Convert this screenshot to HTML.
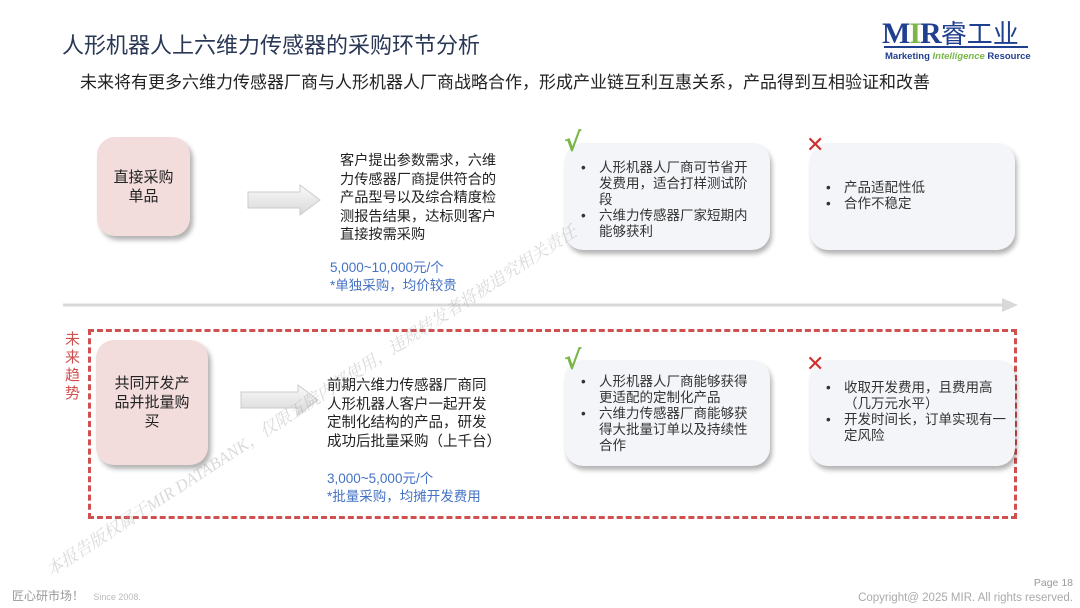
<!DOCTYPE html>
<html><head><meta charset="utf-8"><style>
*{margin:0;padding:0;box-sizing:border-box}
body{width:1080px;height:608px;background:#fff;position:relative;overflow:hidden;font-family:"Liberation Sans","Noto Sans CJK SC",sans-serif;color:#333}
.a{position:absolute}
.pink{background:#f2dcdc;border-radius:18px;box-shadow:3px 4px 5px rgba(0,0,0,.3);display:flex;align-items:center;justify-content:center;text-align:center;font-size:15px;line-height:19px;color:#222}
.card{background:#f3f5f8;border-radius:18px;box-shadow:2px 4px 5px rgba(0,0,0,.3);font-size:13.5px;line-height:16px;color:#333}
.card ul{list-style:none}
.card li{position:relative;padding-left:34px;width:188px}
.card li:before{content:"•";position:absolute;left:16px}
.txt{font-size:14.2px;line-height:18.5px;color:#222}
.blue{font-size:13.5px;line-height:18px;color:#4472c4}
.ck{color:#7ab648;font-size:26px;font-weight:bold;font-family:"DejaVu Sans",sans-serif}
.x{color:#d03030;font-size:22px;font-weight:bold;font-family:"DejaVu Sans",sans-serif}
</style></head><body>
<div class="a" style="left:62px;top:28px;font-size:22px;color:#2a3856">人形机器人上六维力传感器的采购环节分析</div>
<div class="a" style="left:80px;top:68px;font-size:17px;color:#222">未来将有更多六维力传感器厂商与人形机器人厂商战略合作，形成产业链互利互惠关系，产品得到互相验证和改善</div>
<div class="a" style="left:882px;top:14px;font-family:'Liberation Serif',serif;font-weight:bold;font-size:30px;color:#1f3f8f;letter-spacing:-1px">M<span style="color:#7ab648">I</span>R<span style="font-family:'Noto Sans CJK SC',sans-serif;font-weight:normal;font-size:26px;letter-spacing:0">睿工业</span></div>
<div class="a" style="left:884px;top:46px;width:144px;height:2px;background:#1f3f8f"></div>
<div class="a" style="left:885px;top:51px;font-size:9.5px;font-weight:bold;color:#1f3f8f">Marketing <i style="color:#7ab648">Intelligence</i> Resource</div>

<div class="a pink" style="left:97px;top:137px;width:93px;height:99px">直接采购<br>单品</div>
<svg class="a" style="left:245px;top:183px" width="80" height="34"><defs><linearGradient id="g" x1="0" y1="0" x2="0" y2="1"><stop offset="0" stop-color="#fafafa"/><stop offset="1" stop-color="#d8d8d8"/></linearGradient></defs><path d="M3 9H55V2L75 17L55 32V25H3Z" fill="url(#g)" stroke="#ccc" stroke-width="1"/></svg>
<div class="a txt" style="left:340px;top:152px;width:160px">客户提出参数需求，六维力传感器厂商提供符合的产品型号以及综合精度检测报告结果，达标则客户直接按需采购</div>
<div class="a blue" style="left:330px;top:259px">5,000~10,000元/个<br>*单独采购，均价较贵</div>
<div class="a card" style="left:565px;top:143px;width:205px;height:107px;padding-top:17px"><ul><li>人形机器人厂商可节省开发费用，适合打样测试阶段</li><li>六维力传感器厂家短期内能够获利</li></ul></div>
<div class="a ck" style="left:564px;top:128px">√</div>
<div class="a card" style="left:810px;top:143px;width:205px;height:107px;padding-top:37px"><ul><li>产品适配性低</li><li>合作不稳定</li></ul></div>
<div class="a x" style="left:806px;top:133px">✕</div>

<svg class="a" style="left:60px;top:296px" width="962" height="18"><line x1="3" y1="9" x2="945" y2="9" stroke="#d9d9d9" stroke-width="3"/><path d="M942 2L958 9L942 16Z" fill="#d9d9d9"/></svg>

<div class="a" style="left:88px;top:329px;width:929px;height:190px;border:3px dashed #d05050"></div>
<div class="a" style="left:65px;top:331px;width:18px;font-size:15px;line-height:18px;color:#d05050">未来趋势</div>
<div class="a pink" style="left:96px;top:340px;width:112px;height:125px">共同开发产<br>品并批量购<br>买</div>
<svg class="a" style="left:238px;top:383px" width="85" height="34"><path d="M3 9H60V2L80 17L60 32V25H3Z" fill="url(#g)" stroke="#ccc" stroke-width="1"/></svg>
<div class="a txt" style="left:327px;top:377px;width:170px;font-size:14.5px">前期六维力传感器厂商同人形机器人客户一起开发定制化结构的产品，研发成功后批量采购（上千台）</div>
<div class="a blue" style="left:327px;top:470px">3,000~5,000元/个<br>*批量采购，均摊开发费用</div>
<div class="a card" style="left:565px;top:360px;width:205px;height:106px;padding-top:14px"><ul><li>人形机器人厂商能够获得更适配的定制化产品</li><li>六维力传感器厂商能够获得大批量订单以及持续性合作</li></ul></div>
<div class="a ck" style="left:564px;top:346px">√</div>
<div class="a card" style="left:810px;top:360px;width:205px;height:106px;padding-top:20px"><ul><li style="width:200px">收取开发费用，且费用高（几万元水平）</li><li style="width:200px">开发时间长，订单实现有一定风险</li></ul></div>
<div class="a x" style="left:806px;top:352px">✕</div>

<div class="a" style="left:40px;top:560px;transform:rotate(-33deg);transform-origin:left top;font-family:'Liberation Serif','Noto Serif CJK SC',serif;font-style:italic;font-size:17px;color:rgba(150,150,150,.35);white-space:nowrap">本报告版权属于MIR DATABANK，仅限五院内部使用，违规转发者将被追究相关责任</div>

<div class="a" style="left:12px;top:587px;font-size:12px;color:#999">匠心研市场！ <span style="font-size:9px;color:#bbb;margin-left:6px">Since 2008.</span></div>
<div class="a" style="right:7px;top:577px;font-size:10.5px;color:#999">Page 18</div>
<div class="a" style="right:7px;top:592px;font-size:11.5px;color:#aaa">Copyright@ 2025 MIR. All rights reserved.</div>
</body></html>
